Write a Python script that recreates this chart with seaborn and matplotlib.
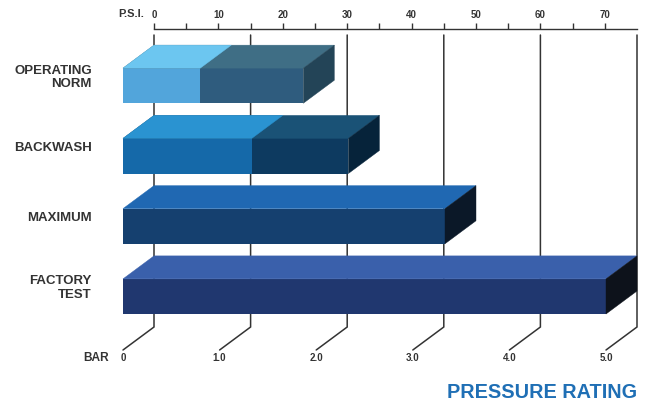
import numpy as np
import pandas as pd
import matplotlib.pyplot as plt
import seaborn as sns
from matplotlib.patches import Polygon

# data (psi)
categories = ["OPERATING\nNORM", "BACKWASH", "MAXIMUM", "FACTORY\nTEST"]
psi_high = [28, 35, 50, 75]
psi_low = [12, 20, 0, 0]
psi_ticks = [0, 10, 20, 30, 40, 50, 60, 70]
psi_minor = [5, 15, 25, 35, 45, 55, 65]
bar_ticks = [0, 1, 2, 3, 4, 5]
bar_labels = ["0", "1.0", "2.0", "3.0", "4.0", "5.0"]
psi_per_bar = 15

# colours: front / top / side faces
front_dark = ["#2f5c7e", "#0d3a60", "#15406f", "#20376f"]
top_dark = ["#3f6e85", "#1a5276", "#2068b2", "#3a60ab"]
side_dark = ["#234457", "#06233a", "#0b1828", "#0d121b"]
front_light = ["#52a5db", "#1569a9", "#15406f", "#20376f"]
top_light = ["#6cc6f0", "#2a93d1", "#2068b2", "#3a60ab"]
ink = "#333333"

# layout in pixels
W, H = 653, 405
ppp = (637 - 154) / 75.0      # pixels per psi
x_front0 = 123                # px of 0 psi on the front plane
y_row0, row = 85.7, 70.25     # px of first row centre, px per row
depth_x = 31 / ppp            # 3d depth in psi units
depth_y = 23 / row            # 3d depth in row units

def py(v):
    return (v - y_row0) / row

def px(v):
    return (v - x_front0) / ppp

sns.set_style("white")
plt.rcParams['font.family'] = ['Liberation Sans', 'DejaVu Sans']
plt.rcParams['font.weight'] = 'bold'

fig = plt.figure(figsize=(W / 100, H / 100), dpi=100)
ax = fig.add_axes([0, 0, 1, 1])

df = pd.DataFrame({"cat": categories, "high": psi_high, "low": psi_low})
sns.barplot(data=df, x="high", y="cat", hue="cat", palette=front_dark,
            orient="h", width=0.5, saturation=1, legend=False,
            linewidth=0, ax=ax, zorder=2)
high_bars = list(ax.patches)
sns.barplot(data=df, x="low", y="cat", hue="cat", palette=front_light,
            orient="h", width=0.5, saturation=1, legend=False,
            linewidth=0, ax=ax, zorder=2)
low_bars = [p for p in ax.patches if p not in high_bars]
high_bars.sort(key=lambda p: p.get_y())
low_bars.sort(key=lambda p: p.get_y())

# top and side faces built from the bars seaborn drew
for i, r in enumerate(high_bars):
    x0, w, yt, h = r.get_x(), r.get_width(), r.get_y(), r.get_height()
    top = [(x0, yt), (x0 + w, yt), (x0 + w + depth_x, yt - depth_y),
           (x0 + depth_x, yt - depth_y)]
    side = [(x0 + w, yt), (x0 + w, yt + h), (x0 + w + depth_x, yt + h - depth_y),
            (x0 + w + depth_x, yt - depth_y)]
    ax.add_patch(Polygon(top, closed=True, fc=top_dark[i], ec=top_dark[i], lw=0.3, zorder=2))
    ax.add_patch(Polygon(side, closed=True, fc=side_dark[i], ec=side_dark[i], lw=0.3, zorder=2))
for i, r in enumerate(low_bars):
    x0, w, yt = r.get_x(), r.get_width(), r.get_y()
    if w <= 0:
        continue
    top = [(x0, yt), (x0 + w, yt), (x0 + w + depth_x, yt - depth_y),
           (x0 + depth_x, yt - depth_y)]
    ax.add_patch(Polygon(top, closed=True, fc=top_light[i], ec=top_light[i], lw=0.3, zorder=3))

# grid lines on the back plane, bent to the BAR labels at the front
for b, lab in zip(bar_ticks, bar_labels):
    xp = b * psi_per_bar
    ax.plot([xp + depth_x, xp + depth_x, xp],
            [py(35), py(327), py(327) + depth_y],
            color=ink, lw=1.1, zorder=0.5, solid_joinstyle="miter")
    ax.text(xp, py(358), lab, ha="center", va="center", fontsize=7, color=ink)
ax.text(px(96), py(358), "BAR", ha="center", va="center", fontsize=8.6, color=ink)

for i, cat in enumerate(categories):
    ax.text(px(92), i - 0.12, cat, ha="right", va="center", fontsize=9.5,
            color=ink, linespacing=1.15)

ax.set_xlim(px(0), px(W))
ax.set_ylim(py(H), py(0))
ax.axis("off")

# psi axis across the top (back plane)
ax_psi = fig.add_axes([154 / W, 1 - 29 / H - 0.001, (637 - 154) / W, 0.001])
ax_psi.set_xlim(0, 75)
for s in ["left", "right", "bottom"]:
    ax_psi.spines[s].set_visible(False)
ax_psi.spines["top"].set_color(ink)
ax_psi.spines["top"].set_linewidth(1.0)
ax_psi.patch.set_alpha(0)
ax_psi.set_yticks([])
ax_psi.set_xticks(psi_ticks)
ax_psi.set_xticks(psi_minor, minor=True)
ax_psi.set_xticklabels([str(t) for t in psi_ticks])
ax_psi.tick_params(axis="x", which="both", top=True, bottom=False, labeltop=True,
                   labelbottom=False, direction="out", length=4.3, width=1.0,
                   color=ink, labelcolor=ink, labelsize=7, pad=2.5)
fig.text(131 / W, 1 - 14 / H, "P.S.I.", ha="center", va="center", fontsize=8,
         color=ink)

fig.text(637 / W, 1 - 393 / H, "PRESSURE RATING", ha="right", va="center",
         fontsize=14.3, color="#1f6fb5")

plt.savefig("out.png", dpi=100)
